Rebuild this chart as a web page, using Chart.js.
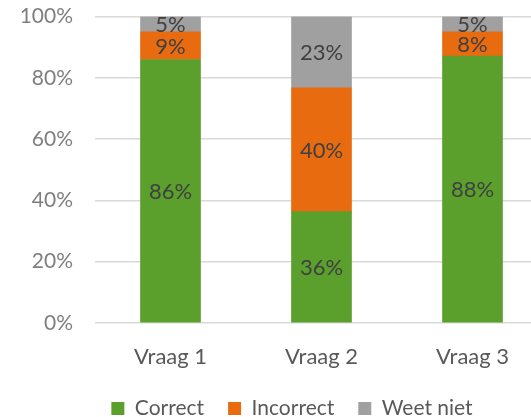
<!DOCTYPE html>
<html>
<head>
<meta charset="utf-8">
<script src="https://cdn.jsdelivr.net/npm/chart.js@4/dist/chart.umd.min.js"></script>
<style>
html,body{margin:0;padding:0;background:#fff;overflow:hidden;width:531px;height:417px;}
#wrap{position:absolute;left:0;top:-18px;width:584px;height:447px;}
</style>
</head>
<body>
<div id="wrap"><canvas id="c" width="584" height="447"></canvas></div>
<script>
const categories = ['Vraag 1', 'Vraag 2', 'Vraag 3'];
const seriesNames = ['Correct', 'Incorrect', 'Weet niet'];
const correct = [86, 36, 88];
const incorrect = [9, 40, 8];
const weetNiet = [5, 23, 5];
const yTicks = [0, 20, 40, 60, 80, 100];

const raw = [correct, incorrect, weetNiet];
const totals = categories.map((_, i) => raw.reduce((s, a) => s + a[i], 0));
const pct = raw.map(a => a.map((v, i) => v / totals[i] * 100));
const colors = ['#5b9f2d', '#e96b10', '#a0a0a0'];
const FONT = 'Lato, "Open Sans", sans-serif';

const labelPlugin = {
  id: 'segLabels',
  afterDatasetsDraw(chart) {
    const ctx = chart.ctx;
    ctx.save();
    ctx.font = '22px ' + FONT;
    ctx.fillStyle = '#404040';
    ctx.textAlign = 'center';
    ctx.textBaseline = 'middle';
    chart.data.datasets.forEach((ds, di) => {
      const meta = chart.getDatasetMeta(di);
      meta.data.forEach((el, i) => {
        const cy = (el.y + el.base) / 2;
        ctx.fillText(raw[di][i] + '%', el.x, cy + 1);
      });
    });
    ctx.restore();
  }
};

const legendShift = {
  id: 'legendShift',
  afterLayout(chart) {
    const lg = chart.legend;
    if (lg) { lg.left += 18; lg.right += 18; }
  }
};

new Chart(document.getElementById('c'), {
  type: 'bar',
  data: {
    labels: categories,
    datasets: seriesNames.map((n, k) => ({
      label: n,
      data: pct[k],
      backgroundColor: colors[k],
      borderWidth: 0,
      barThickness: 60
    }))
  },
  options: {
    responsive: false,
    animation: false,
    layout: { padding: { left: 0, right: 36, top: -4, bottom: 0 } },
    plugins: {
      legend: {
        position: 'bottom',
        labels: {
          boxWidth: 13, boxHeight: 13, padding: 24,
          color: '#595959',
          font: { family: FONT, size: 21 }
        }
      },
      tooltip: { enabled: false }
    },
    scales: {
      x: {
        stacked: true,
        grid: { display: false },
        border: { display: false },
        afterFit: s => { s.height = 51; },
        ticks: { color: '#595959', font: { family: FONT, size: 22 }, padding: 13 }
      },
      y: {
        stacked: true,
        min: 0, max: 100,
        afterBuildTicks: s => { s.ticks = yTicks.map(v => ({ value: v })); },
        afterFit: s => { s.width = 95; },
        grid: { color: '#d9d9d9', lineWidth: 1.5, drawTicks: false },
        border: { display: false },
        ticks: {
          color: '#7f7f7f', font: { family: FONT, size: 21 }, padding: 22,
          callback: v => v + '%'
        }
      }
    }
  },
  plugins: [labelPlugin, legendShift]
});
</script>
</body>
</html>
